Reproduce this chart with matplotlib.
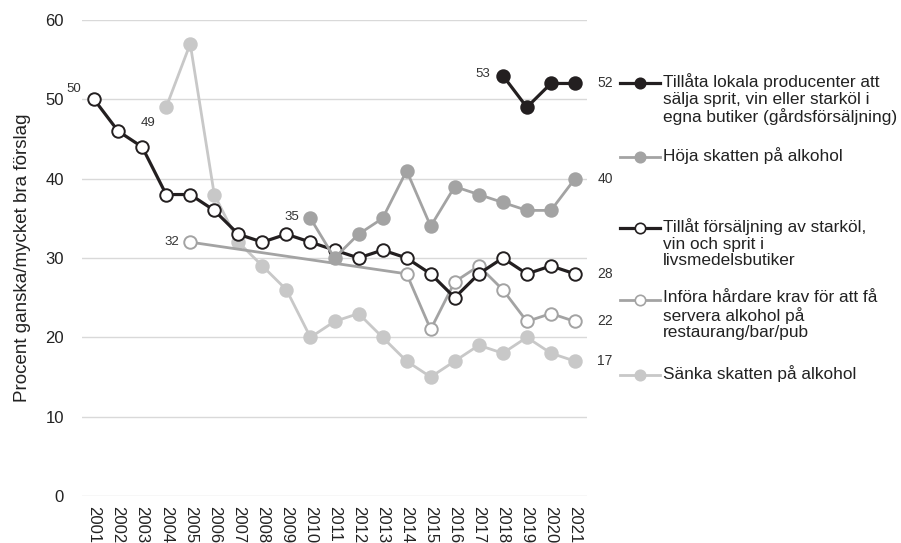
import numpy as np
import matplotlib.pyplot as plt
from matplotlib.lines import Line2D

plt.rcParams['font.family'] = ['Liberation Sans', 'DejaVu Sans']

years = list(range(2001, 2022))
nan = np.nan

# Tillåta lokala producenter ... (gårdsförsäljning)
gards = [nan] * 17 + [53, 49, 52, 52]
# Höja skatten på alkohol
hoja = [nan] * 9 + [35, 30, 33, 35, 41, 34, 39, 38, 37, 36, 36, 40]
# Tillåt försäljning av starköl, vin och sprit i livsmedelsbutiker
livs = [50, 46, 44, 38, 38, 36, 33, 32, 33, 32, 31, 30, 31, 30, 28, 25, 28, 30, 28, 29, 28]
# Införa hårdare krav för att få servera alkohol på restaurang/bar/pub
krav = [nan] * 4 + [32] + [nan] * 8 + [28, 21, 27, 29, 26, 22, 23, 22]
# Sänka skatten på alkohol
sanka = [nan] * 3 + [49, 57, 38, 32, 29, 26, 20, 22, 23, 20, 17, 15, 17, 19, 18, 20, 18, 17]

labels = [
    "Tillåta lokala producenter att\nsälja sprit, vin eller starköl i\negna butiker (gårdsförsäljning)",
    "Höja skatten på alkohol",
    "Tillåt försäljning av starköl,\nvin och sprit i\nlivsmedelsbutiker",
    "Införa hårdare krav för att få\nservera alkohol på\nrestaurang/bar/pub",
    "Sänka skatten på alkohol",
]

black = "#231f20"
mid = "#a3a3a3"
light = "#c8c8c8"

styles = [
    (gards, black, black, black, 2.3),
    (hoja, mid, mid, mid, 2.0),
    (livs, black, "white", black, 2.3),
    (krav, mid, "white", mid, 2.0),
    (sanka, light, light, light, 2.0),
]

fig = plt.figure(figsize=(9.01, 5.43), dpi=100)
ax = fig.add_axes([82 / 901, 1 - 496 / 543, (587 - 82) / 901, (496 - 20) / 543])

# draw back to front
for vals, lc, fc, ec, lw in reversed(styles):
    x = np.array(years, dtype=float)
    y = np.array(vals, dtype=float)
    m = ~np.isnan(y)
    ax.plot(x[m], y[m], color=lc, lw=lw, marker="o", ms=9,
            markerfacecolor=fc, markeredgecolor=ec, markeredgewidth=1.4, zorder=3)

ax.set_xlim(2000.5, 2021.5)
ax.set_ylim(0, 60)
ax.set_yticks(range(0, 61, 10))
ax.set_xticks(years)
ax.set_xticklabels([str(y) for y in years], rotation=270, fontsize=12, color="#222222")
ax.tick_params(axis="y", length=0, pad=13, labelsize=12, labelcolor="#222222")
ax.tick_params(axis="x", length=0, pad=7)
ax.grid(axis="y", color="#d9d9d9", lw=1)
ax.set_axisbelow(True)
for s in ax.spines.values():
    s.set_visible(False)
ax.set_ylabel("Procent ganska/mycket bra förslag", fontsize=13.5, color="#222222", labelpad=10)

# data labels
lab_kw = dict(fontsize=9.5, color="#333333")
ax.annotate(f"{livs[0]}", (years[0], livs[0]), xytext=(-9, 3), textcoords="offset points",
            ha="right", va="bottom", **lab_kw)
ax.annotate(f"{sanka[3]}", (years[3], sanka[3]), xytext=(-8, -7), textcoords="offset points",
            ha="right", va="top", **lab_kw)
ax.annotate(f"{krav[4]}", (years[4], krav[4]), xytext=(-8, 0), textcoords="offset points",
            ha="right", va="center", **lab_kw)
ax.annotate(f"{hoja[9]}", (years[9], hoja[9]), xytext=(-8, 1), textcoords="offset points",
            ha="right", va="center", **lab_kw)
ax.annotate(f"{gards[17]}", (years[17], gards[17]), xytext=(-9, 1), textcoords="offset points",
            ha="right", va="center", **lab_kw)
for vals in [gards, hoja, livs, krav, sanka]:
    ax.annotate(f"{vals[-1]}", (years[-1], vals[-1]), xytext=(16, 0), textcoords="offset points",
                ha="left", va="center", clip_on=False, fontsize=10, color="#333333")

# legend drawn by hand (markers sit on first text line)
leg_y = [83, 157, 228, 300, 375]
for (vals, lc, fc, ec, lw), lab, yy in zip(styles, labels, leg_y):
    yf = 1 - yy / 543
    fig.add_artist(Line2D([620 / 901, 660 / 901], [yf, yf], color=lc, lw=lw,
                          transform=fig.transFigure))
    fig.add_artist(Line2D([640 / 901], [yf], color=lc, marker="o", ms=7.5,
                          markerfacecolor=fc, markeredgecolor=ec, markeredgewidth=1.2,
                          transform=fig.transFigure))
    fig.text(663 / 901, yf + 10 / 543, lab, ha="left", va="top", fontsize=12.4,
             color="#222222", linespacing=1.13, transform=fig.transFigure)

fig.savefig("out.png", dpi=100)
